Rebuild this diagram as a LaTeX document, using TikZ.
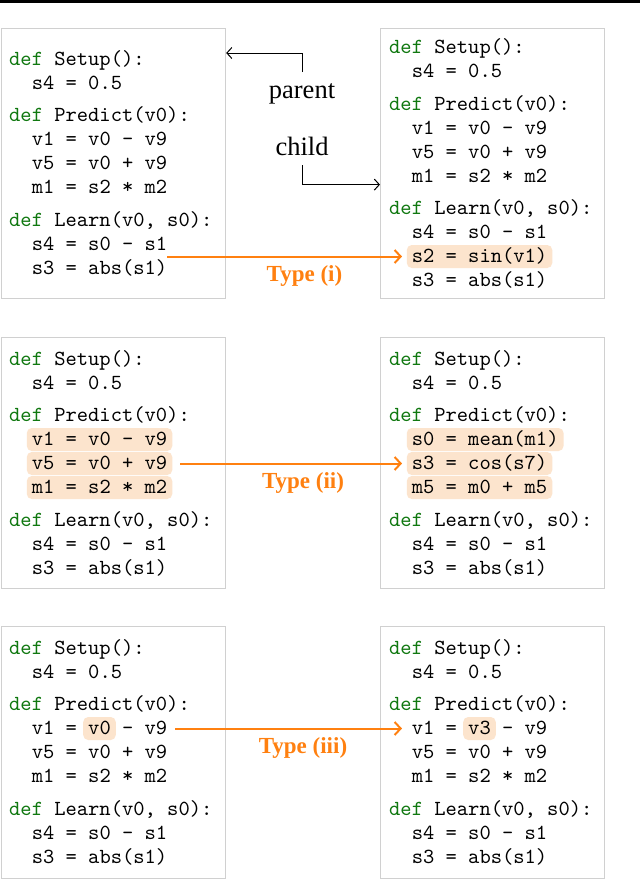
\documentclass[tikz,border=0pt]{standalone}
\usepackage{fontspec}
\usetikzlibrary{arrows.meta}
\newfontfamily\tms{Liberation Serif}
\newfontfamily\cmtt{lmmono10-regular}[Extension=.otf]
\definecolor{kwgreen}{RGB}{16,120,16}
\definecolor{orng}{RGB}{255,128,16}
\definecolor{hlfill}{RGB}{252,228,205}
\definecolor{boxgray}{RGB}{208,208,208}
\newcommand{\codefont}{\cmtt\fontsize{21.5pt}{24pt}\selectfont\frenchspacing}
\newcommand{\kw}{\textcolor{kwgreen}{def}}
\tikzset{
  x=1pt, y=1pt,
  code/.style={anchor=west, inner sep=0pt, text height=16pt, text depth=4pt, font=\codefont},
  hlline/.style={code, fill=hlfill, rounded corners=5pt, inner xsep=5pt, inner ysep=1.5pt},
  panel/.style={draw=boxgray, line width=1.2pt, fill=white, inner sep=0pt, anchor=north west},
  oarrow/.style={draw=orng, line width=2pt, -{Straight Barb[length=6pt,width=13pt]}},
  barrow/.style={draw=black, line width=1pt, -{Straight Barb[length=5pt,width=11pt]}},
  typelabel/.style={font=\tms\bfseries\fontsize{23pt}{23pt}\selectfont, text=orng, inner sep=0pt},
  plainlabel/.style={font=\tms\fontsize{26.5pt}{26.5pt}\selectfont, inner sep=0pt, anchor=base}
}
\begin{document}
\begin{tikzpicture}
\useasboundingbox (0,0) rectangle (640,-879);
\fill[black] (0,0) rectangle (640,-3);

% ---------- boxes ----------
\node[panel, minimum width=224.4pt, minimum height=270pt] (b1l) at (0.6,-28) {};
\node[panel, minimum width=224pt, minimum height=270pt] (b1r) at (380,-28) {};
\node[panel, minimum width=224.4pt, minimum height=251pt] (b2l) at (0.6,-337) {};
\node[panel, minimum width=224pt, minimum height=251pt] (b2r) at (380,-337) {};
\node[panel, minimum width=224.4pt, minimum height=252pt] (b3l) at (0.6,-626) {};
\node[panel, minimum width=224pt, minimum height=252pt] (b3r) at (380,-626) {};

% ---------- panel 1 left ----------
\node[code] (p1l1) at (9,-59) {\kw{} Setup():};
\node[code] (p1l2) at (31.6,-83) {s4 = 0.5};
\node[code] (p1l3) at (9,-115.5) {\kw{} Predict(v0):};
\node[code] (p1l4) at (31.6,-139.5) {v1 = v0 - v9};
\node[code] (p1l5) at (31.6,-163.5) {v5 = v0 + v9};
\node[code] (p1l6) at (31.6,-187.5) {m1 = s2 * m2};
\node[code] (p1l7) at (9,-220) {\kw{} Learn(v0, s0):};
\node[code] (p1l8) at (31.6,-244) {s4 = s0 - s1};
\node[code] (p1l9) at (31.6,-268) {s3 = abs(s1)};

% ---------- panel 1 right ----------
\node[code] (p1r1) at (389,-47.5) {\kw{} Setup():};
\node[code] (p1r2) at (411.6,-71.5) {s4 = 0.5};
\node[code] (p1r3) at (389,-104) {\kw{} Predict(v0):};
\node[code] (p1r4) at (411.6,-128) {v1 = v0 - v9};
\node[code] (p1r5) at (411.6,-152) {v5 = v0 + v9};
\node[code] (p1r6) at (411.6,-176) {m1 = s2 * m2};
\node[code] (p1r7) at (389,-208.5) {\kw{} Learn(v0, s0):};
\node[code] (p1r8) at (411.6,-232.5) {s4 = s0 - s1};
\node[hlline] (p1r9) at (406.6,-256.5) {s2 = sin(v1)};
\node[code] (p1r10) at (411.6,-280.5) {s3 = abs(s1)};

% ---------- panel 2 left ----------
\node[code] (p2l1) at (9,-359) {\kw{} Setup():};
\node[code] (p2l2) at (31.6,-383) {s4 = 0.5};
\node[code] (p2l3) at (9,-415.5) {\kw{} Predict(v0):};
\node[hlline] (p2l4) at (26.6,-439.5) {v1 = v0 - v9};
\node[hlline] (p2l5) at (26.6,-463.5) {v5 = v0 + v9};
\node[hlline] (p2l6) at (26.6,-487.5) {m1 = s2 * m2};
\node[code] (p2l7) at (9,-520) {\kw{} Learn(v0, s0):};
\node[code] (p2l8) at (31.6,-544) {s4 = s0 - s1};
\node[code] (p2l9) at (31.6,-568) {s3 = abs(s1)};

% ---------- panel 2 right ----------
\node[code] (p2r1) at (389,-359) {\kw{} Setup():};
\node[code] (p2r2) at (411.6,-383) {s4 = 0.5};
\node[code] (p2r3) at (389,-415.5) {\kw{} Predict(v0):};
\node[hlline] (p2r4) at (406.6,-439.5) {s0 = mean(m1)};
\node[hlline] (p2r5) at (406.6,-463.5) {s3 = cos(s7)};
\node[hlline] (p2r6) at (406.6,-487.5) {m5 = m0 + m5};
\node[code] (p2r7) at (389,-520) {\kw{} Learn(v0, s0):};
\node[code] (p2r8) at (411.6,-544) {s4 = s0 - s1};
\node[code] (p2r9) at (411.6,-568) {s3 = abs(s1)};

% ---------- panel 3 left ----------
\node[hlline] (hv0) at (83,-728.5) {\phantom{v0}};
\node[code] (p3l1) at (9,-648) {\kw{} Setup():};
\node[code] (p3l2) at (31.6,-672) {s4 = 0.5};
\node[code] (p3l3) at (9,-704.5) {\kw{} Predict(v0):};
\node[code] (p3l4) at (31.6,-728.5) {v1 = v0 - v9};
\node[code] (p3l5) at (31.6,-752.5) {v5 = v0 + v9};
\node[code] (p3l6) at (31.6,-776.5) {m1 = s2 * m2};
\node[code] (p3l7) at (9,-809) {\kw{} Learn(v0, s0):};
\node[code] (p3l8) at (31.6,-833) {s4 = s0 - s1};
\node[code] (p3l9) at (31.6,-857) {s3 = abs(s1)};

% ---------- panel 3 right ----------
\node[hlline] (hv3) at (463,-728.5) {\phantom{v3}};
\node[code] (p3r1) at (389,-648) {\kw{} Setup():};
\node[code] (p3r2) at (411.6,-672) {s4 = 0.5};
\node[code] (p3r3) at (389,-704.5) {\kw{} Predict(v0):};
\node[code] (p3r4) at (411.6,-728.5) {v1 = v3 - v9};
\node[code] (p3r5) at (411.6,-752.5) {v5 = v0 + v9};
\node[code] (p3r6) at (411.6,-776.5) {m1 = s2 * m2};
\node[code] (p3r7) at (389,-809) {\kw{} Learn(v0, s0):};
\node[code] (p3r8) at (411.6,-833) {s4 = s0 - s1};
\node[code] (p3r9) at (411.6,-857) {s3 = abs(s1)};

% ---------- parent / child ----------
\node[plainlabel] (parent) at (302,-98) {parent};
\node[plainlabel] (child) at (302,-155) {child};
\coordinate (pa) at (302,-72);
\coordinate (ca) at (302,-165);
\draw[barrow] (pa) |- ([yshift=-25pt]b1l.north east);
\draw[barrow] (ca) |- ([yshift=-21pt]b1r.west);

% ---------- mutation arrows ----------
\draw[oarrow, shorten >=4.6pt] (p1l8.east |- p1r9.west) -- (p1r9.west);
\draw[oarrow, shorten <=8pt, shorten >=4.6pt] (p2l5.east) -- (p2r5.west);
\draw[oarrow, shorten <=8pt, shorten >=9.6pt] (p3l4.east) -- (p3r4.west);

\node[typelabel] (t1) at (304.5,-276) {Type (i)};
\node[typelabel] (t2) at (303,-483) {Type (ii)};
\node[typelabel] (t3) at (303,-747.5) {Type (iii)};
\end{tikzpicture}
\end{document}
